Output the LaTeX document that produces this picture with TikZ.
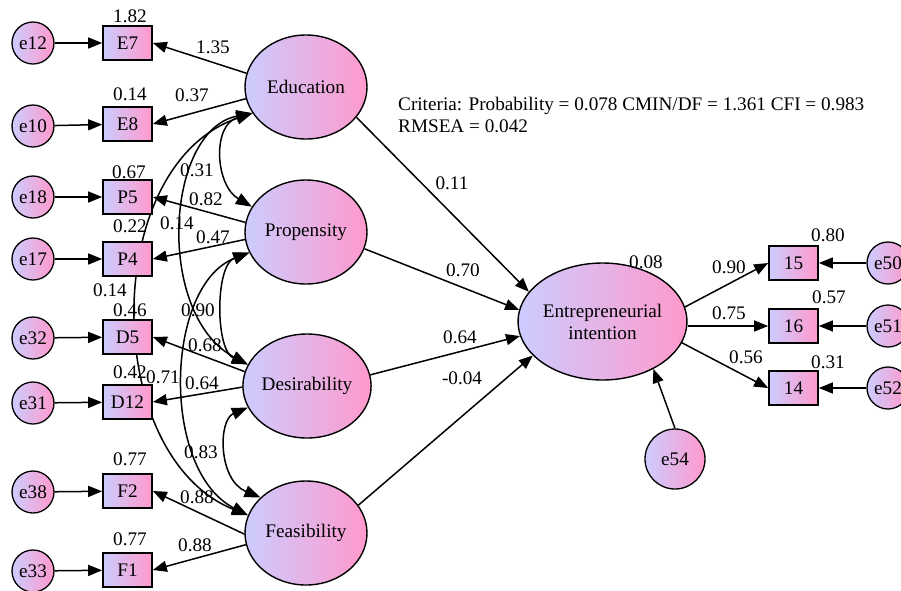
\documentclass[tikz,border=0pt]{standalone}
\usepackage{fontspec}
\setmainfont{Liberation Serif}
\usetikzlibrary{arrows.meta,shapes.geometric}
\pgfdeclarelayer{bg}
\pgfsetlayers{bg,main}
\definecolor{lav}{RGB}{204,204,255}
\definecolor{pnk}{RGB}{255,153,204}
\tikzset{
 base/.style={font=\fontsize{19.2}{22}\selectfont},
 err/.style={base, circle, draw, line width=1.3pt, minimum size=42pt, inner sep=0pt, left color=lav, right color=pnk},
 bigerr/.style={err, minimum size=60pt},
 obs/.style={base, rectangle, draw, line width=1.7pt, minimum width=49pt, minimum height=34pt, inner sep=0pt, left color=lav, right color=pnk},
 lat/.style={base, ellipse, draw, line width=1.4pt, minimum width=122pt, minimum height=104pt, inner sep=0pt, left color=lav, right color=pnk},
 lbl/.style={base, inner sep=0pt},
 arr/.style={-{Triangle[length=14pt,width=11pt]}, line width=1.5pt},
 cov/.style={{Triangle[length=16pt,width=12pt]}-{Triangle[length=16pt,width=12pt]}, line width=1.5pt},
}
\begin{document}
\begin{tikzpicture}[x=1pt,y=-1pt]
\useasboundingbox (0,0) rectangle (901,590);
\clip (0,0) rectangle (901,590);
\begin{pgfonlayer}{bg}
\fill[white] (0,0) rectangle (901,590);
\end{pgfonlayer}

% latent variables
\node[lat] (edu) at (306,87) {Education};
\node[lat] (prop) at (306,232) {Propensity};
\node[lat] (des) at (307,386) {Desirability};
\node[lat] (feas) at (306,533) {Feasibility};
\node[lat, minimum width=161pt, minimum height=117pt, align=center] (ei) at (602.5,321.5) {Entrepreneurial\\intention};
\node[bigerr] (e54) at (675,459) {e54};

% left indicators
\node[obs] (E7) at (127.5,43) {E7};
\node[obs] (E8) at (127.5,124) {E8};
\node[obs] (P5) at (127.5,197) {P5};
\node[obs] (P4) at (127.5,259) {P4};
\node[obs] (D5) at (127.5,337) {D5};
\node[obs] (D12) at (127.5,402) {D12};
\node[obs] (F2) at (127.5,491) {F2};
\node[obs] (F1) at (127.5,570) {F1};

\node[err] (e12) at (33,43) {e12};
\node[err] (e10) at (33,126) {e10};
\node[err] (e18) at (33,197) {e18};
\node[err] (e17) at (33,259) {e17};
\node[err] (e32) at (33,338) {e32};
\node[err] (e31) at (33,403) {e31};
\node[err] (e38) at (33,492) {e38};
\node[err] (e33) at (33,571) {e33};

% right indicators
\node[obs] (i15) at (793.5,263) {15};
\node[obs] (i16) at (793.5,326) {16};
\node[obs] (i14) at (793.5,388) {14};
\node[err] (e50) at (888,263) {e50};
\node[err] (e51) at (888,326) {e51};
\node[err] (e52) at (888,388) {e52};

% text
\node[lbl, anchor=north west, align=left] (crit) at (398,97) {Criteria: Probability = 0.078 CMIN/DF = 1.361 CFI = 0.983\\RMSEA = 0.042};

% labels
\node[lbl] (l01) at (130,16) {1.82};
\node[lbl] (l02) at (213,47) {1.35};
\node[lbl] (l03) at (130,94) {0.14};
\node[lbl] (l04) at (192,95) {0.37};
\node[lbl] (l05) at (129,172) {0.67};
\node[lbl] (l06) at (197,170) {0.31};
\node[lbl] (l07) at (206,199) {0.82};
\node[lbl] (l08) at (177,223) {0.14};
\node[lbl] (l09) at (130,226) {0.22};
\node[lbl] (l10) at (213,237) {0.47};
\node[lbl] (l11) at (110,290) {0.14};
\node[lbl] (l12) at (130,310) {0.46};
\node[lbl] (l13) at (198,310) {0.90};
\node[lbl] (l14) at (205,345) {0.68};
\node[lbl] (l15) at (130,372) {0.42};
\node[lbl] (l16) at (163,377) {0.71};
\node[lbl] (l17) at (202,383) {0.64};
\node[lbl] (l18) at (201,452) {0.83};
\node[lbl] (l19) at (130,459) {0.77};
\node[lbl] (l20) at (197,497) {0.88};
\node[lbl] (l21) at (130,539) {0.77};
\node[lbl] (l22) at (195,545) {0.88};
\node[lbl] (l23) at (452,183) {0.11};
\node[lbl] (l24) at (463,270) {0.70};
\node[lbl] (l25) at (460,337) {0.64};
\node[lbl] (l26) at (462,378) {-0.04};
\node[lbl] (l27) at (646,262) {0.08};
\node[lbl] (l28) at (729,267) {0.90};
\node[lbl] (l29) at (729,313) {0.75};
\node[lbl] (l30) at (746,357) {0.56};
\node[lbl] (l31) at (828,235) {0.80};
\node[lbl] (l32) at (829,297) {0.57};
\node[lbl] (l33) at (828,362) {0.31};

\begin{pgfonlayer}{bg}
% error arrows
\draw[arr] (e12) -- (E7);
\draw[arr] (e10) -- (E8);
\draw[arr] (e18) -- (P5);
\draw[arr] (e17) -- (P4);
\draw[arr] (e32) -- (D5);
\draw[arr] (e31) -- (D12);
\draw[arr] (e38) -- (F2);
\draw[arr] (e33) -- (F1);
\draw[arr] (e50) -- (i15);
\draw[arr] (e51) -- (i16);
\draw[arr] (e52) -- (i14);
\draw[arr] (e54.north) -- (ei.317);
% loadings
\draw[arr] (edu.167) -- (E7.east);
\draw[arr] (edu.191) -- (E8.east);
\draw[arr] (prop.171) -- (P5.east);
\draw[arr] (prop.187) -- (P4.east);
\draw[arr] (des.167) -- (D5.east);
\draw[arr] (des.181) -- (D12.east);
\draw[arr] (feas.181) -- (F2.east);
\draw[arr] (feas.191) -- (F1.east);
\draw[arr] (ei.10) -- (i15.west);
\draw[arr] (ei.east |- i16.west) -- (i16.west);
\draw[arr] (ei.345) -- (i14.west);
% structural paths
\draw[arr] (edu.329) -- (ei.158);
\draw[arr] (prop.344) -- (ei.172);
\draw[arr] (des.10) -- (ei.190);
\draw[arr] (feas.28) -- (ei.206);
% covariances
\draw[cov] (edu.206) .. controls (212,125) and (215,185) .. (prop.155);
\draw[cov] (edu.206) .. controls (165,130) and (155,315) .. (des.160);
\draw[cov] (edu.206) .. controls (100,165) and (100,455) .. (feas.163);
\draw[cov] (prop.200) .. controls (215,265) and (215,350) .. (des.160);
\draw[cov] (prop.200) .. controls (165,285) and (160,470) .. (feas.163);
\draw[cov] (des.200) .. controls (218,420) and (218,480) .. (feas.142);
\end{pgfonlayer}
\end{tikzpicture}
\end{document}
